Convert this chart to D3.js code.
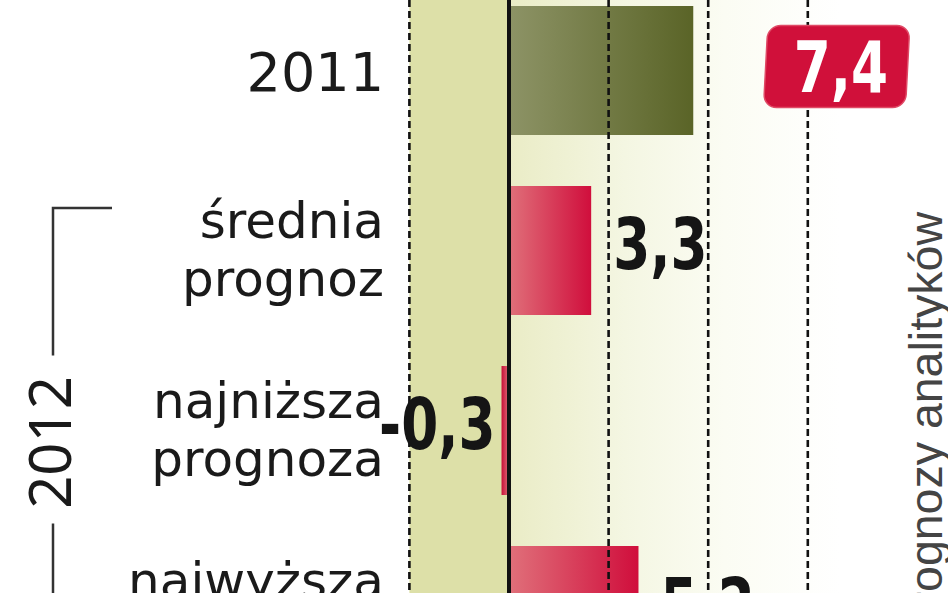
<!DOCTYPE html>
<html>
<head>
<meta charset="utf-8">
<script src="https://cdn.jsdelivr.net/npm/d3@7"></script>
<style>
html,body{margin:0;padding:0;background:#fff;overflow:hidden;}
svg{display:block;}
</style>
</head>
<body>
<svg id="chart" width="948" height="593"></svg>
<script>
// ---- data ----
const categories = ["2011", "średnia prognoz", "najniższa prognoza", "najwyższa prognoza"];
const values = [7.4, 3.3, -0.3, 5.2];
const valueLabels = ["7,4", "3,3", "-0,3", "5,2"];
const gridTicks = [-4, 4, 8, 12];
const groupLabel = "2012";
const sideNote = "prognozy analityków";

// ---- layout ----
const W = 948, H = 593;
const svg = d3.select("#chart");
const defs = svg.append("defs");

const x = d3.scaleLinear().domain([-4, 12]).range([409.4, 807.8]);
const y = d3.scaleBand().domain(categories)
  .range([-19.5, 700.5]).paddingInner(51 / 180).paddingOuter(51 / 360);

// gradients
function hGrad(id, stops, rev) {
  const g = defs.append("linearGradient").attr("id", id)
    .attr("x1", rev ? "100%" : "0%").attr("x2", rev ? "0%" : "100%")
    .attr("y1", "0%").attr("y2", "0%");
  stops.forEach(s => g.append("stop").attr("offset", s[0]).attr("stop-color", s[1]));
}
hGrad("bgGrad", [["0%", "#eaecc6"], ["35%", "#f4f6e2"], ["65%", "#fbfcf3"], ["100%", "#ffffff"]]);
hGrad("olive", [["0%", "#8d9366"], ["100%", "#5a6427"]]);
hGrad("red", [["0%", "#e0707a"], ["100%", "#d00e3c"]]);
hGrad("redNeg", [["0%", "#e0707a"], ["100%", "#c80e38"]], true);

// background panels
svg.append("rect").attr("x", x(-4)).attr("y", 0)
  .attr("width", x(0) - x(-4)).attr("height", H).attr("fill", "#dde0a8");
svg.append("rect").attr("x", x(0)).attr("y", 0)
  .attr("width", 840 - x(0)).attr("height", H).attr("fill", "url(#bgGrad)");

// bars
svg.selectAll("rect.bar").data(values).enter().append("rect")
  .attr("class", "bar")
  .attr("x", d => Math.min(x(0), x(d)))
  .attr("y", (d, i) => y(categories[i]))
  .attr("width", d => Math.abs(x(d) - x(0)))
  .attr("height", y.bandwidth())
  .attr("fill", (d, i) => i === 0 ? "url(#olive)" : (d < 0 ? "url(#redNeg)" : "url(#red)"));

// dashed grid lines
svg.selectAll("line.grid").data(gridTicks).enter().append("line")
  .attr("class", "grid")
  .attr("x1", d => x(d)).attr("x2", d => x(d))
  .attr("y1", 0).attr("y2", H)
  .attr("stroke", "#111").attr("stroke-width", 2.6)
  .attr("stroke-dasharray", "7,4");

// zero line
svg.append("line").attr("x1", x(0)).attr("x2", x(0)).attr("y1", 0).attr("y2", H)
  .attr("stroke", "#111").attr("stroke-width", 4);

// category labels
categories.forEach((c, i) => {
  const cy = y(c) + y.bandwidth() / 2;
  const words = c.split(" ");
  const t = svg.append("text")
    .attr("text-anchor", "end")
    .attr("font-family", "DejaVu Sans, sans-serif")
    .attr("fill", "#1a1a1a");
  if (words.length === 1) {
    t.attr("x", 384).attr("y", cy + 20).attr("font-size", 54).text(c);
  } else {
    t.attr("font-size", 50);
    t.append("tspan").attr("x", 384).attr("y", cy - 13).text(words[0]);
    t.append("tspan").attr("x", 384).attr("y", cy + 45).text(words[1]);
  }
});

// value labels
const numFont = "DejaVu Sans, sans-serif";
values.forEach((v, i) => {
  const cy = y(categories[i]) + y.bandwidth() / 2;
  if (i === 0) {
    const bx = x(12) - 40, bw = 142, bh = 82;
    const g = svg.append("g").attr("transform", `translate(${bx},${cy - 45}) skewX(-3)`);
    g.append("rect").attr("x", 0).attr("y", 0).attr("width", bw).attr("height", bh)
      .attr("rx", 13).attr("ry", 13).attr("fill", "#d0103a")
      .attr("stroke", "#e04a66").attr("stroke-width", 1.5);
    svg.append("text")
      .attr("transform", `translate(${bx + bw / 2 + 2},${cy + 21}) scale(0.75,1)`)
      .attr("text-anchor", "middle")
      .attr("font-family", numFont).attr("font-weight", "bold")
      .attr("font-size", 71).attr("fill", "#fff")
      .text(valueLabels[i]);
  } else if (v < 0) {
    svg.append("text")
      .attr("transform", `translate(${x(v) - 6},${cy + 18}) scale(0.75,1)`)
      .attr("text-anchor", "end")
      .attr("font-family", numFont).attr("font-weight", "bold")
      .attr("font-size", 71).attr("fill", "#151515")
      .text(valueLabels[i]);
  } else {
    svg.append("text")
      .attr("transform", `translate(${x(v) + 22},${cy + 18}) scale(0.75,1)`)
      .attr("text-anchor", "start")
      .attr("font-family", numFont).attr("font-weight", "bold")
      .attr("font-size", 71).attr("fill", "#151515")
      .text(valueLabels[i]);
  }
});

// 2012 bracket
const gTop = y(categories[1]) + 22;
const gBot = y(categories[3]) + y.bandwidth() + 2;
const gMid = (gTop + gBot) / 2;
const bx = 53;
svg.append("path")
  .attr("d", `M112,${gTop}H${bx}V${gMid - 87}`)
  .attr("fill", "none").attr("stroke", "#333").attr("stroke-width", 2.5);
svg.append("path")
  .attr("d", `M${bx},${gMid + 81}V${gBot}`)
  .attr("fill", "none").attr("stroke", "#333").attr("stroke-width", 2.5);
svg.append("text")
  .attr("transform", `translate(71,${gMid}) rotate(-90)`)
  .attr("text-anchor", "middle")
  .attr("font-family", "Noto Sans, sans-serif")
  .attr("font-size", 58).attr("fill", "#1a1a1a")
  .text(groupLabel);

// side note
svg.append("text")
  .attr("transform", `translate(942,212) rotate(-90)`)
  .attr("text-anchor", "end")
  .attr("font-family", "Liberation Sans, Arial, sans-serif")
  .attr("font-size", 46.5).attr("fill", "#444")
  .text(sideNote);
</script>
</body>
</html>
